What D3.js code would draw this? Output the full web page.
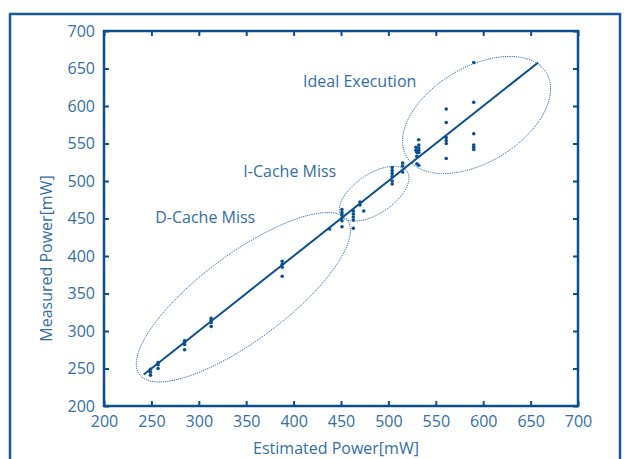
<!DOCTYPE html>
<html>
<head>
<meta charset="utf-8">
<script src="https://cdn.jsdelivr.net/npm/d3@7"></script>
<style>
  html, body { margin: 0; padding: 0; background: #fff; }
  #chart { width: 627px; height: 459px; }
  text { font-family: "Open Sans", sans-serif; }
</style>
</head>
<body>
<div id="chart"></div>
<script>
const xTicks = [200, 250, 300, 350, 400, 450, 500, 550, 600, 650, 700];
const yTicks = [200, 250, 300, 350, 400, 450, 500, 550, 600, 650, 700];

// estimated power for each measured sample
const estimated = [
  249, 249, 249,
  257, 257, 257,
  285, 285, 285, 285,
  313, 313, 313, 313,
  388, 388, 388, 388,
  438,
  451, 451, 451, 451, 451, 451,
  463, 463, 463, 463, 463,
  470, 470,
  474,
  504, 504, 504, 504, 504, 504,
  515, 515, 515,
  529, 529,
  530, 530, 530,
  532, 532, 532, 532, 532, 532,
  561, 561, 561, 561, 561, 561,
  590, 590, 590, 590, 590, 590
];
const measured = [
  249, 245, 241,
  258, 255, 250,
  287, 285, 282, 275,
  317, 314, 311, 306,
  393, 389, 385, 373,
  436,
  462, 458, 455, 451, 447, 439,
  460, 456, 452, 448, 437,
  472, 468,
  460,
  518, 514, 510, 506, 500, 496,
  524, 520, 512,
  545, 541,
  538, 533, 523,
  555, 548, 544, 541, 538, 521,
  596, 578, 558, 554, 550, 530,
  658, 605, 563, 548, 545, 542
];

const idealLine = [242, 658];

// groups: name, centre, half-axis along y=x and across it (data units)
const groupNames = ["D-Cache Miss", "I-Cache Miss", "Ideal Execution"];
const groupCentres = [[347, 345], [485, 483], [593, 588]];
const groupMajor = [151, 46, 94];
const groupMinor = [52, 24, 58];
const labelPos = [[254, 444], [347, 505], [410, 625]];

const width = 627, height = 459;
const margin = { top: 31, right: 49, bottom: 53, left: 104 };
const axisColor = "#0b4f8e";
const textColor = "#336ea6";

const svg = d3.select("#chart").append("svg")
  .attr("width", width)
  .attr("height", height);

// outer frame (open at the bottom)
svg.append("path")
  .attr("d", `M10,${height + 5}V14H620V${height + 5}`)
  .attr("fill", "none")
  .attr("stroke", "#17579a")
  .attr("stroke-width", 2.5);

const x = d3.scaleLinear().domain([200, 700]).range([margin.left, width - margin.right]);
const y = d3.scaleLinear().domain([200, 700]).range([height - margin.bottom, margin.top]);

const x0 = x.range()[0], x1 = x.range()[1];
const y0 = y.range()[0], y1 = y.range()[1];

function styleAxis(g, showText) {
  g.select(".domain").remove();
  g.selectAll(".tick line").attr("stroke", axisColor).attr("stroke-width", 2);
  g.selectAll(".tick text")
    .attr("fill", textColor)
    .style("font-size", "16px")
    .style("display", showText ? null : "none");
}

svg.append("g")
  .attr("transform", `translate(0,${y0})`)
  .call(d3.axisBottom(x).tickValues(xTicks).tickSize(-5).tickPadding(10))
  .call(g => styleAxis(g, true));

svg.append("g")
  .attr("transform", `translate(0,${y1})`)
  .call(d3.axisTop(x).tickValues(xTicks).tickSize(-5))
  .call(g => styleAxis(g, false));

svg.append("g")
  .attr("transform", `translate(${x0},0)`)
  .call(d3.axisLeft(y).tickValues(yTicks).tickSize(-5).tickPadding(9))
  .call(g => styleAxis(g, true));

svg.append("g")
  .attr("transform", `translate(${x1},0)`)
  .call(d3.axisRight(y).tickValues(yTicks).tickSize(-5))
  .call(g => styleAxis(g, false));

svg.append("rect")
  .attr("x", x0).attr("y", y1)
  .attr("width", x1 - x0).attr("height", y0 - y1)
  .attr("fill", "none")
  .attr("stroke", axisColor)
  .attr("stroke-width", 2.5);

// ellipses around the groups
const ellipseLine = d3.line().x(d => x(d[0])).y(d => y(d[1])).curve(d3.curveLinearClosed);
groupNames.forEach((name, i) => {
  const [cx, cy] = groupCentres[i];
  const a = groupMajor[i], b = groupMinor[i];
  const pts = d3.range(0, 2 * Math.PI, Math.PI / 90).map(t => {
    const u = a * Math.cos(t), v = b * Math.sin(t);
    return [cx + (u - v) / Math.SQRT2, cy + (u + v) / Math.SQRT2];
  });
  svg.append("path")
    .attr("d", ellipseLine(pts))
    .attr("fill", "none")
    .attr("stroke", "#2d6ca8")
    .attr("stroke-width", 1)
    .attr("stroke-dasharray", "1.2,1");

  svg.append("text")
    .attr("x", x(labelPos[i][0]))
    .attr("y", y(labelPos[i][1]))
    .attr("fill", textColor)
    .style("font-size", "16px")
    .text(name);
});

// ideal line y = x
svg.append("line")
  .attr("x1", x(idealLine[0])).attr("y1", y(idealLine[0]))
  .attr("x2", x(idealLine[1])).attr("y2", y(idealLine[1]))
  .attr("stroke", "#0b4f8e")
  .attr("stroke-width", 2);

svg.append("g")
  .selectAll("circle")
  .data(estimated.map((e, i) => [e, measured[i]]))
  .join("circle")
  .attr("cx", d => x(d[0]))
  .attr("cy", d => y(d[1]))
  .attr("r", 1.8)
  .attr("fill", "#0b4f8e");

svg.append("text")
  .attr("x", (x0 + x1) / 2 - 5)
  .attr("y", 454)
  .attr("text-anchor", "middle")
  .attr("fill", textColor)
  .style("font-size", "16px")
  .text("Estimated Power[mW]");

svg.append("text")
  .attr("transform", `translate(52,${(y0 + y1) / 2 + 40}) rotate(-90)`)
  .attr("text-anchor", "middle")
  .attr("fill", textColor)
  .style("font-size", "16px")
  .text("Measured Power[mW]");
</script>
</body>
</html>
